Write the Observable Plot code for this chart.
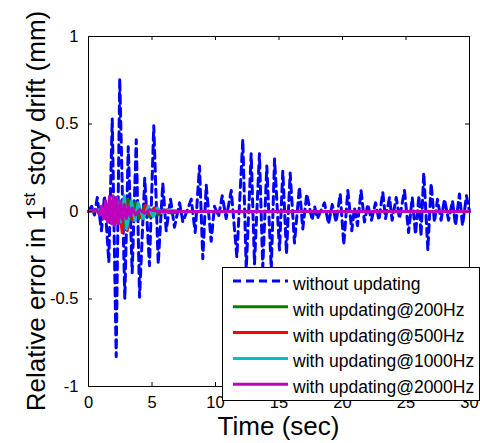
<!DOCTYPE html>
<html><head><meta charset="utf-8">
<script src="https://cdn.jsdelivr.net/npm/d3@7"></script>
<script src="https://cdn.jsdelivr.net/npm/@observablehq/plot@0.6"></script>
<style>
html,body{margin:0;padding:0;background:#fff;overflow:hidden;}
#wrap{position:relative;width:480px;height:443px;font-family:"Liberation Sans",Arial,sans-serif;color:#000;}
</style></head><body><div id="wrap"></div>
<script>
const seriesNames = ["without updating","with updating@200Hz","with updating@500Hz","with updating@1000Hz","with updating@2000Hz"];
const seriesColors = ["#0000ff","#008000","#ff0000","#00bfbf","#bf00bf"];
const xTicks = [0,5,10,15,20,25,30];
const xTickLabels = ["0","5","10","15","20","25","30"];
const yTicks = [-1,-0.5,0,0.5,1];
const yTickLabels = ["-1","-0.5","0","0.5","1"];
const xTitle = "Time (sec)";
const yTitleMain = "Relative error in 1";
const yTitleSup = "st";
const yTitleRest = " story drift (mm)";

// without updating (blue dashed)
const blueT = [0,0.24,0.47,0.69,1.02,1.26,1.60,1.87,2.18,2.46,2.86,3.13,3.44,3.76,4.02,4.43,4.80,5.14,5.49,5.85,6.12,6.46,6.77,7.17,7.43,8.09,8.40,8.74,9.00,9.27,9.66,9.92,10.24,10.53,10.84,11.24,11.68,12.15,12.42,12.81,13.07,13.46,13.72,14.04,14.39,14.65,15.04,15.30,15.59,15.88,16.22,16.61,16.87,17.19,17.61,17.80,18.03,18.58,18.90,19.19,19.50,19.82,20.10,20.42,20.73,20.94,21.18,21.46,21.73,21.99,22.28,22.60,22.87,23.17,23.39,23.70,23.91,24.23,24.49,24.88,25.20,25.49,25.75,26.02,26.18,26.40,26.72,26.98,27.24,27.48,27.76,28.03,28.35,28.66,28.90,29.21,29.45,29.76,30];
const blueV = [0,0.03,-0.02,0.08,-0.11,0.09,-0.29,0.53,-0.83,0.76,-0.50,0.37,-0.35,0.41,-0.49,0.19,-0.31,0.49,-0.30,0.16,-0.11,0.07,-0.09,0.05,-0.06,0.07,-0.12,0.26,-0.27,0.15,-0.17,0.03,-0.03,0.09,-0.04,0.12,-0.26,0.41,-0.33,0.33,-0.30,0.33,-0.32,0.26,-0.33,0.30,-0.22,0.23,-0.24,0.22,-0.18,0.14,-0.10,0.10,-0.05,0.03,-0.04,0.05,-0.07,0.04,-0.06,0.10,-0.19,0.12,-0.11,0.02,-0.08,0.12,-0.06,0.04,-0.05,0.05,-0.05,0.11,-0.04,0.08,-0.05,0.08,-0.04,0.12,-0.12,0.08,-0.13,0.09,-0.14,0.22,-0.22,0.16,-0.06,0.07,-0.05,0.07,-0.05,0.06,-0.08,0.10,-0.08,0.09,0];

// with updating @200Hz (green)
const greenT = [0,1.30,1.65,1.95,2.25,2.60,2.87,3.10,3.42,3.70,4.00,4.40,4.80,5.15,5.50,5.90,6.50,7.20,30];
const greenV = [0,0.01,-0.02,0.04,-0.05,0.05,-0.08,0.07,-0.05,0.05,-0.04,0.03,-0.03,0.02,-0.02,0.01,-0.01,0,0];

// with updating @500Hz (red)
const redT = [0,1.30,1.65,1.90,2.20,2.42,2.65,2.85,3.05,3.30,3.55,3.85,4.15,4.50,4.85,5.20,5.60,6.20,7.00,30];
const redV = [0,0.01,-0.03,0.05,-0.06,0.05,-0.12,0.08,-0.11,0.06,-0.05,0.04,-0.03,0.035,-0.02,0.02,-0.01,0.01,0,0];

// with updating @1000Hz (cyan)
const cyanT = [0,0.87,1.26,1.65,1.89,2.20,2.52,2.83,2.99,3.39,3.65,3.91,4.31,4.70,5.09,5.43,5.83,6.38,7.01,30];
const cyanV = [0,0.01,-0.02,0.03,-0.04,0.08,-0.06,0.09,-0.10,0.06,-0.05,0.05,-0.04,0.03,-0.03,0.02,-0.01,0.01,0,0];

// with updating @2000Hz (magenta)
const magT = [0,0.63,0.87,1.02,1.18,1.34,1.50,1.65,1.81,1.93,2.05,2.20,2.36,2.52,2.68,2.83,2.99,3.15,3.31,3.46,3.70,4.02,4.41,4.80,5.59,30];
const magV = [0,0.01,-0.02,0.03,-0.04,0.06,-0.06,0.085,-0.07,0.09,-0.08,0.08,-0.07,0.06,-0.05,0.04,-0.04,0.03,-0.03,0.02,-0.02,0.01,-0.01,0.01,0,0];

const rows = (T, V) => T.map((t, i) => ({t, v: V[i]}));
const seriesData = [rows(blueT, blueV), rows(greenT, greenV), rows(redT, redV), rows(cyanT, cyanV), rows(magT, magV)];

const W = 480, H = 443, mL = 88, mR = 11, mT = 36, mB = 57;
const fw = W - mL - mR, fh = H - mT - mB, tk = 4;

const chart = Plot.plot({
  width: W, height: H, marginLeft: mL, marginRight: mR, marginTop: mT, marginBottom: mB,
  style: {fontFamily: '"Liberation Sans", Arial, sans-serif', background: "white", color: "black", overflow: "visible"},
  x: {domain: [0, 30]},
  y: {domain: [-1, 1]},
  marks: [
    ...seriesData.map((d, i) => Plot.line(d, {x: "t", y: "v", stroke: seriesColors[i], strokeWidth: 3,
      strokeDasharray: i === 0 ? "8,5" : null, strokeLinejoin: "round"})),
    Plot.frame({stroke: "black", strokeWidth: 1}),
    Plot.tickX(xTicks, {x: d => d, insetTop: fh - tk, stroke: "black"}),
    Plot.tickX(xTicks, {x: d => d, insetBottom: fh - tk, stroke: "black"}),
    Plot.tickY(yTicks, {y: d => d, insetRight: fw - tk, stroke: "black"}),
    Plot.tickY(yTicks, {y: d => d, insetLeft: fw - tk, stroke: "black"}),
    Plot.axisX(xTicks, {anchor: "bottom", tickSize: 0, tickPadding: 10, fontSize: 16.5, label: null,
      tickFormat: d => xTickLabels[xTicks.indexOf(d)]}),
    Plot.axisY(yTicks, {anchor: "left", tickSize: 0, tickPadding: 10, fontSize: 16.5, label: null,
      tickFormat: d => yTickLabels[yTicks.indexOf(d)]})
  ]
});
document.getElementById("wrap").appendChild(chart);

const svg = d3.select(chart);
const xs = chart.scale("x"), ys = chart.scale("y");
svg.append("text")
  .attr("x", xs.apply(15)).attr("y", 435)
  .attr("text-anchor", "middle").attr("font-size", 26).attr("fill", "black")
  .text(xTitle);
const yt = svg.append("text")
  .attr("transform", `translate(45,${ys.apply(0)}) rotate(-90)`)
  .attr("text-anchor", "middle").attr("font-size", 26).attr("fill", "black");
yt.append("tspan").text(yTitleMain);
yt.append("tspan").attr("font-size", 17).attr("dy", -10).text(yTitleSup);
yt.append("tspan").attr("dy", 10).text(yTitleRest);

// legend
const lg = d3.select("#wrap").append("svg")
  .attr("width", 262).attr("height", 135)
  .style("position", "absolute").style("left", "222px").style("top", "267px")
  .style("font-family", '"Liberation Sans", Arial, sans-serif');
lg.append("rect").attr("x", 0.5).attr("y", 0.5).attr("width", 257).attr("height", 133)
  .attr("fill", "white").attr("stroke", "black");
seriesNames.forEach((name, i) => {
  const cy = 14 + i * 25.8;
  lg.append("line").attr("x1", 11).attr("x2", 66).attr("y1", cy).attr("y2", cy)
    .attr("stroke", seriesColors[i]).attr("stroke-width", 3)
    .attr("stroke-dasharray", i === 0 ? "8,5" : null);
  lg.append("text").attr("x", 71).attr("y", cy + 9).attr("font-size", 17.5).attr("fill", "black").text(name);
});
</script></body></html>
